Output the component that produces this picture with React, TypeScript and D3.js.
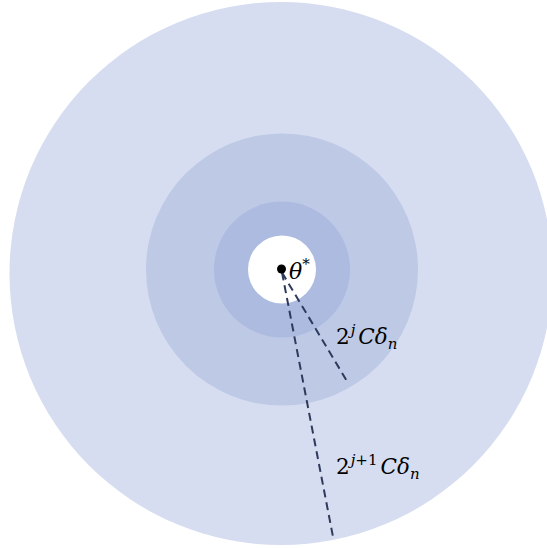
import React from "react";
import * as d3 from "d3";

// ring radii in units of the innermost (white) radius
const ringLevels = [8, 4, 2, 1];
const ringColors = ["#d6ddf0", "#bec9e6", "#adbbe0", "#ffffff"];
// dashed radii: angle from straight-down (deg), length in units
const rayAngles = [30.2, 10.8];
const rayLengths = [3.83, 8.0];
// labels
const rayLabelSup = ["j", "j+1"];

const W = 547;
const H = 548;
const cx = 282;
const cy = 269.5;

export default function App() {
  const r = d3.scaleLinear().domain([0, 8]).range([0, 272]);
  const pts = rayAngles.map((a, i) => {
    const rad = (a * Math.PI) / 180;
    const len = r(rayLengths[i]);
    return [cx + Math.sin(rad) * len, cy + Math.cos(rad) * len];
  });
  const line = d3.line();
  const labelPos = [
    [336, 344],
    [336, 473.5],
  ];
  const mathFont = "'DejaVu Serif', serif";
  return (
    <svg
      width={W}
      height={H}
      style={{ position: "absolute", left: 0, top: 0, background: "#fff" }}
    >
      {ringLevels.map((lv, i) => (
        <circle
          key={i}
          cx={i === 0 ? 281 : cx}
          cy={i === 0 ? 273.5 : cy}
          r={i === 0 ? 271.5 : r(lv)}
          fill={ringColors[i]}
        />
      ))}
      {pts.map((p, i) => (
        <path
          key={i}
          d={line([[cx, cy + 3], p as [number, number]]) || ""}
          stroke="#2e3a5c"
          strokeWidth={2}
          strokeDasharray="8,5"
          fill="none"
        />
      ))}
      <circle cx={281.5} cy={269} r={4.5} fill="#000" />
      <text x={289} y={279} fontFamily={mathFont} fontSize={22} fontStyle="italic">
        θ
        <tspan fontSize={15} dy={-10} fontStyle="normal">*</tspan>
      </text>
      {labelPos.map((p, i) => (
        <text key={i} x={p[0]} y={p[1]} fontFamily={mathFont} fontSize={21.5}>
          <tspan>2</tspan>
          <tspan fontSize={15} dy={-9} dx={1}>
            <tspan fontStyle="italic">j</tspan>
            {rayLabelSup[i].slice(1)}
          </tspan>
          <tspan dy={9} dx={3} fontStyle="italic">Cδ</tspan>
          <tspan fontSize={15} dy={5} fontStyle="italic">n</tspan>
        </text>
      ))}
    </svg>
  );
}
